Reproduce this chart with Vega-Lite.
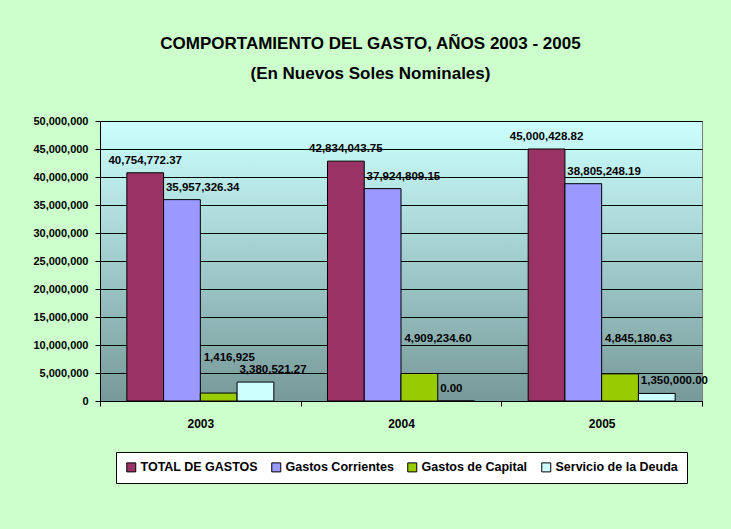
{
  "$schema": "https://vega.github.io/schema/vega-lite/v6.json",
  "width": 602,
  "height": 280,
  "padding": {"left": 32, "top": 35, "right": 30, "bottom": 50},
  "background": "#CCFFCC",
  "title": {
    "text": "COMPORTAMIENTO DEL GASTO, AÑOS 2003 - 2005",
    "subtitle": "(En Nuevos Soles Nominales)",
    "font": "Liberation Sans",
    "subtitleFont": "Liberation Sans",
    "fontSize": 17,
    "subtitleFontSize": 17,
    "fontWeight": "bold",
    "subtitleFontWeight": "bold",
    "color": "#000000",
    "subtitleColor": "#000000",
    "anchor": "middle",
    "frame": "bounds",
    "offset": 32,
    "subtitlePadding": 13
  },
  "data": {
    "values": [
      {"anio": "2003", "serie": "TOTAL DE GASTOS", "valor": 40754772.37, "etiqueta": "40,754,772.37"},
      {"anio": "2003", "serie": "Gastos Corrientes", "valor": 35957326.34, "etiqueta": "35,957,326.34"},
      {"anio": "2003", "serie": "Gastos de Capital", "valor": 1416925, "etiqueta": "1,416,925"},
      {"anio": "2003", "serie": "Servicio de la Deuda", "valor": 3380521.27, "etiqueta": "3,380,521.27"},
      {"anio": "2004", "serie": "TOTAL DE GASTOS", "valor": 42834043.75, "etiqueta": "42,834,043.75"},
      {"anio": "2004", "serie": "Gastos Corrientes", "valor": 37924809.15, "etiqueta": "37,924,809.15"},
      {"anio": "2004", "serie": "Gastos de Capital", "valor": 4909234.60, "etiqueta": "4,909,234.60"},
      {"anio": "2004", "serie": "Servicio de la Deuda", "valor": 0, "etiqueta": "0.00"},
      {"anio": "2005", "serie": "TOTAL DE GASTOS", "valor": 45000428.82, "etiqueta": "45,000,428.82"},
      {"anio": "2005", "serie": "Gastos Corrientes", "valor": 38805248.19, "etiqueta": "38,805,248.19"},
      {"anio": "2005", "serie": "Gastos de Capital", "valor": 4845180.63, "etiqueta": "4,845,180.63"},
      {"anio": "2005", "serie": "Servicio de la Deuda", "valor": 1350000.00, "etiqueta": "1,350,000.00"}
    ]
  },
  "encoding": {
    "x": {
      "field": "anio",
      "type": "nominal",
      "scale": {"paddingInner": 0, "paddingOuter": 0},
      "axis": {
        "title": null,
        "labelAngle": 0,
        "labelFont": "Liberation Sans",
        "labelFontSize": 12,
        "labelFontWeight": "bold",
        "labelColor": "#000000",
        "tickColor": "#000000",
        "tickSize": 5,
        "tickBand": "extent",
        "labelPadding": 12,
        "domainColor": "#000000",
        "grid": false
      }
    },
    "xOffset": {
      "field": "serie",
      "type": "nominal",
      "sort": ["TOTAL DE GASTOS", "Gastos Corrientes", "Gastos de Capital", "Servicio de la Deuda"],
      "scale": {"paddingInner": 0, "paddingOuter": 0.73}
    },
    "y": {
      "field": "valor",
      "type": "quantitative",
      "scale": {"domain": [0, 50000000], "nice": false},
      "axis": {
        "title": null,
        "values": [0, 5000000, 10000000, 15000000, 20000000, 25000000, 30000000, 35000000, 40000000, 45000000, 50000000],
        "format": ",d",
        "labelFont": "Liberation Sans",
        "labelFontSize": 11,
        "labelFontWeight": "bold",
        "labelColor": "#000000",
        "tickColor": "#000000",
        "tickSize": 5,
        "labelPadding": 7,
        "domainColor": "#000000",
        "grid": true,
        "gridColor": "#000000",
        "gridOpacity": 1,
        "gridWidth": 1
      }
    }
  },
  "layer": [
    {
      "mark": {"type": "bar", "stroke": "#000000", "strokeWidth": 1, "opacity": 1},
      "encoding": {
        "color": {
          "field": "serie",
          "type": "nominal",
          "scale": {
            "domain": ["TOTAL DE GASTOS", "Gastos Corrientes", "Gastos de Capital", "Servicio de la Deuda"],
            "range": ["#993366", "#9999FF", "#99CC00", "#CCFFFF"]
          },
          "legend": {
            "title": null,
            "orient": "none",
            "legendX": 16,
            "legendY": 331,
            "direction": "horizontal",
            "symbolType": "square",
            "symbolSize": 81,
            "symbolStrokeColor": "#000000",
            "symbolStrokeWidth": 1,
            "symbolOpacity": 1,
            "labelFont": "Liberation Sans",
            "labelFontSize": 12.5,
            "labelFontWeight": "bold",
            "labelColor": "#000000",
            "labelOffset": 3,
            "labelLimit": 300,
            "columnPadding": 11,
            "padding": 9,
            "strokeColor": "#000000",
            "fillColor": "#FFFFFF"
          }
        }
      }
    },
    {
      "transform": [{"filter": "datum.serie === 'TOTAL DE GASTOS'"}],
      "mark": {"type": "text", "align": "center", "baseline": "bottom", "dy": -7, "font": "Liberation Sans", "fontSize": 11.5, "fontWeight": "bold", "color": "#000000"},
      "encoding": {"text": {"field": "etiqueta"}}
    },
    {
      "transform": [{"filter": "datum.serie === 'Gastos Corrientes' || datum.serie === 'Servicio de la Deuda'"}],
      "mark": {"type": "text", "align": "left", "baseline": "bottom", "dx": -16, "dy": -7, "font": "Liberation Sans", "fontSize": 11.5, "fontWeight": "bold", "color": "#000000"},
      "encoding": {"text": {"field": "etiqueta"}}
    },
    {
      "transform": [{"filter": "datum.serie === 'Gastos de Capital'"}],
      "mark": {"type": "text", "align": "left", "baseline": "bottom", "dx": -15, "dy": -30, "font": "Liberation Sans", "fontSize": 11.5, "fontWeight": "bold", "color": "#000000"},
      "encoding": {"text": {"field": "etiqueta"}}
    }
  ],
  "config": {
    "font": "Liberation Sans",
    "view": {
      "stroke": "#808080",
      "fill": {
        "gradient": "linear",
        "x1": 0, "y1": 0, "x2": 0, "y2": 1,
        "stops": [
          {"offset": 0, "color": "#CCFFFF"},
          {"offset": 1, "color": "#779999"}
        ]
      }
    }
  }
}
